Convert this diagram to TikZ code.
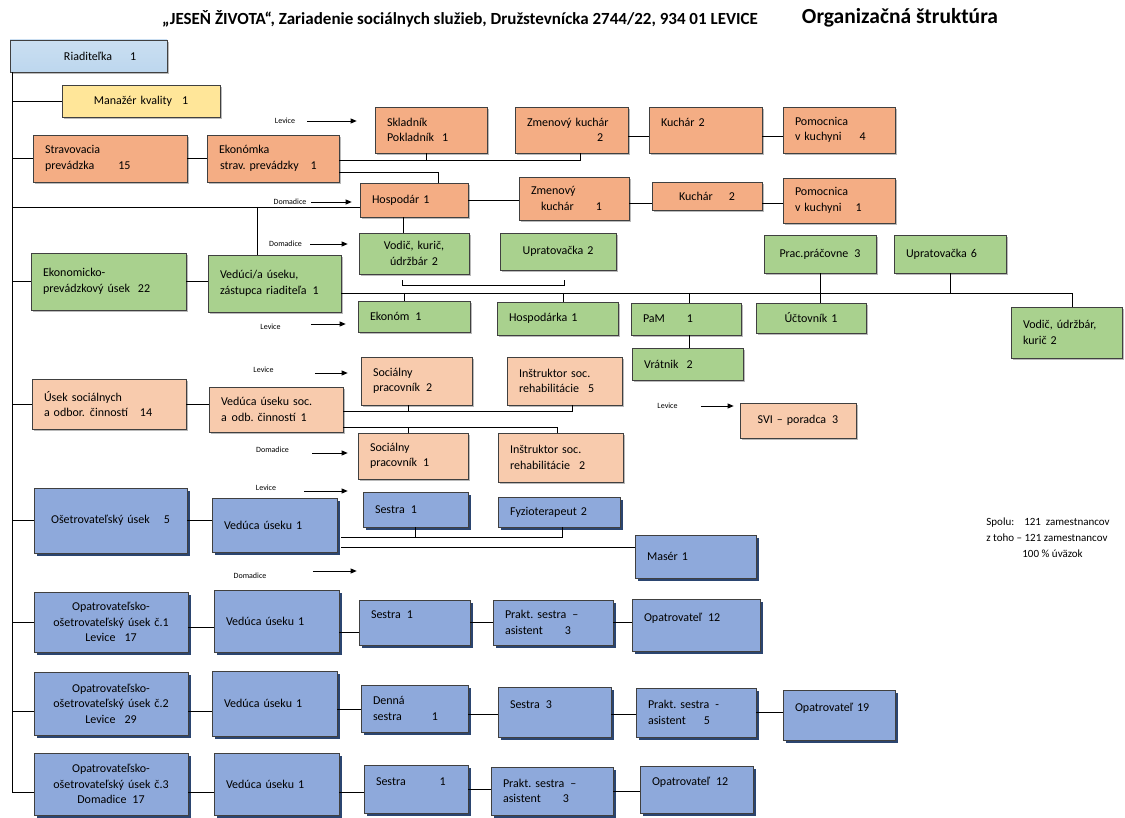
\documentclass[tikz,border=0pt]{standalone}
\usepackage{fontspec}
\setmainfont{Carlito}
\usetikzlibrary{arrows.meta,shadows}
\definecolor{riad}{HTML}{BDD7EE}
\definecolor{kval}{HTML}{FFE699}
\definecolor{strav}{HTML}{F4AD84}
\definecolor{prev}{HTML}{A9D18E}
\definecolor{soc}{HTML}{F8CBAD}
\definecolor{oset}{HTML}{8EA9DB}
\definecolor{osetsh}{HTML}{2B4570}
\frenchspacing

\begin{document}
\begin{tikzpicture}[x=1pt, y=-1pt, line width=0.8pt,
    every node/.style={inner sep=0pt, font=\fontsize{12}{15.5}\selectfont},
    bx/.style={draw=black!75, line width=0.7pt},
    sh/.style={drop shadow={shadow xshift=2pt, shadow yshift=-2pt, fill=black!45, opacity=0.6}},
    ob/.style={bx, sh, fill=strav},
    gb/.style={bx, sh, fill=prev},
    sb/.style={bx, sh, fill=soc},
    bb/.style={bx, fill=oset, drop shadow={shadow xshift=2.5pt, shadow yshift=-2.5pt, fill=osetsh, opacity=1}},
    wh/.style 2 args={minimum width=#1, minimum height=#2, text width=#1-24, align=left},
    whc/.style 2 args={minimum width=#1, minimum height=#2, text width=#1-12, align=center},
    tg/.style={font=\fontsize{8}{9}\selectfont},
    arr/.style={-{Triangle[length=6pt,width=5pt]}}]
    \fill[white] (0,0) rectangle (1125,818);

    \node (ttl) at (460,19) [font=\bfseries\fontsize{17}{20}\selectfont] {„JESEŇ ŽIVOTA“, Zariadenie sociálnych služieb, Družstevnícka 2744/22, 934 01 LEVICE};
    \node (org) at (900,18) [font=\bfseries\fontsize{21.5}{25}\selectfont] {Organizačná štruktúra};

    \node (rdt) at (88.5,56) [bx, sh, top color=riad!80, middle color=white, bottom color=riad, wh={157}{32}] {\hspace*{42pt}Riaditeľka\hspace{18pt}1};
    \node (mnz) at (141,101) [bx, sh, fill=kval, whc={158}{32}] {Manažér kvality\hspace{10pt}1};

    % stravovacia prevadzka
    \node (stv) at (110,158.5) [ob, wh={154}{47}] {Stravovacia\\prevádzka\hspace{24pt}15};
    \node (eko) at (273,158.5) [ob, wh={132}{47}] {Ekonómka\\\hspace*{1pt}strav. prevádzky\hspace{12pt}1};
    \node (skl) at (431,130) [ob, wh={112}{46}] {Skladník\\Pokladník\hspace{8pt}1};
    \node (zk2) at (571.5,130) [ob, wh={113}{46}] {Zmenový kuchár\\\hspace*{70pt}2};
    \node (ku2) at (705.5,130) [ob, wh={113}{46}] {Kuchár 2\\\mbox{}};
    \node (pk4) at (839,130) [ob, wh={112}{46}] {Pomocnica\\v kuchyni\hspace{18pt}4};
    \node (hsp) at (414,200) [ob, wh={108}{34}] {Hospodár 1};
    \node (zk1) at (574,198.5) [ob, wh={110}{43}] {Zmenový\\\hspace*{10pt}kuchár\hspace{22pt}1};
    \node (ku1) at (707,196) [ob, whc={110}{28}] {Kuchár\hspace{16pt}2};
    \node (pk1) at (839,200.5) [ob, wh={112}{45}] {Pomocnica\\v kuchyni\hspace{14pt}1};

    % ekonomicko-prevadzkovy usek
    \node (epu) at (108.5,281.5) [gb, wh={155}{57}] {Ekonomicko-\\prevádzkový úsek\hspace{8pt}22};
    \node (vdc) at (274.5,283.5) [gb, wh={133}{57}] {Vedúci/a úseku,\\zástupca riaditeľa\hspace{6pt}1};
    \node (vku) at (414,253.5) [gb, whc={110}{41}] {Vodič, kurič,\\údržbár 2};
    \node (up2) at (558,251.5) [gb, whc={116}{37}] {Upratovačka 2};
    \node (ekn) at (414,316.5) [gb, wh={112}{31}] {Ekonóm\hspace{6pt}1};
    \node (hka) at (557.5,318.5) [gb, wh={121}{33}] {Hospodárka 1};
    \node (pam) at (686,319) [gb, wh={110}{32}] {PaM\hspace{22pt}1};
    \node (vrt) at (687.5,364) [gb, wh={111}{32}] {Vrátnik\hspace{8pt}2};
    \node (uct) at (811,318) [gb, whc={110}{30}] {Účtovník 1};
    \node (prc) at (820,254) [gb, whc={112}{38}] {Prac.práčovne\hspace{6pt}3};
    \node (up6) at (950,254) [gb, wh={112}{38}] {Upratovačka 6};
    \node (vuk) at (1066.5,332.5) [gb, wh={111}{51}] {Vodič, údržbár,\\kurič 2};

    % usek socialnych cinnosti
    \node (usc) at (109,404) [sb, wh={154}{50}] {Úsek sociálnych\\a odbor.\hspace{5pt}činností\hspace{12pt}14};
    \node (vsc) at (276,409.5) [sb, wh={134}{45}] {Vedúca úseku soc.\\a\hspace{5pt}odb. činností\hspace{5pt}1};
    \node (sp2) at (416.5,381) [sb, wh={111}{48}] {Sociálny\\pracovník\hspace{6pt}2};
    \node (is5) at (564.5,381) [sb, wh={115}{48}] {Inštruktor soc.\\rehabilitácie\hspace{9pt}5};
    \node (sp1) at (413,456) [sb, wh={110}{46}] {Sociálny\\pracovník\hspace{6pt}1};
    \node (is2) at (560.5,457.5) [sb, wh={125}{49}] {Inštruktor soc.\\rehabilitácie\hspace{9pt}2};
    \node (svi) at (798,420.5) [sb, whc={116}{35}] {SVI -- poradca\hspace{6pt}3};

    % osetrovatelsky usek
    \node (osu) at (110.5,520.5) [bb, whc={153}{65}] {Ošetrovateľský úsek\hspace{14pt}5};
    \node (vo0) at (274.5,525) [bb, wh={125}{54}] {Vedúca úseku 1};
    \node (ses) at (415.5,509.5) [bb, wh={105}{35}] {Sestra\hspace{6pt}1};
    \node (fyz) at (559,512) [bb, wh={122}{30}] {Fyzioterapeut 2};
    \node (mas) at (695.5,556.5) [bb, wh={121}{43}] {Masér 1};

    \node (op1) at (111,622) [bb, whc={154}{60}] {Opatrovateľsko-\\ošetrovateľský úsek č.1\\Levice\hspace{9pt}17};
    \node (vo1) at (276.5,621) [bb, wh={125}{62}] {Vedúca úseku 1};
    \node (se1) at (414.5,622.5) [bb, wh={111}{45}] {Sestra\hspace{6pt}1\\\mbox{}};
    \node (pa1) at (553,622.5) [bb, wh={120}{45}] {Prakt. sestra\hspace{6pt}--\\asistent\hspace{22pt}3};
    \node (ot1) at (696,625) [bb, wh={128}{52}] {Opatrovateľ\hspace{6pt}12\\\mbox{}};

    \node (op2) at (111,703.5) [bb, whc={154}{63}] {Opatrovateľsko-\\ošetrovateľský úsek č.2\\Levice\hspace{9pt}29};
    \node (vo2) at (274.5,703.5) [bb, wh={125}{65}] {Vedúca úseku 1};
    \node (dse) at (414.5,708.5) [bb, wh={107}{47}] {Denná\\sestra\hspace{30pt}1};
    \node (se3) at (554.5,712) [bb, wh={113}{50}] {Sestra\hspace{6pt}3\\\mbox{}};
    \node (pa5) at (696,712.5) [bb, wh={120}{49}] {Prakt. sestra\hspace{6pt}-\\asistent\hspace{18pt}5};
    \node (ot9) at (839,715) [bb, wh={112}{50}] {Opatrovateľ 19\\\mbox{}};

    \node (op3) at (111,784) [bb, whc={154}{62}] {Opatrovateľsko-\\ošetrovateľský úsek č.3\\Domadice\hspace{6pt}17};
    \node (vo3) at (276.5,784) [bb, wh={125}{62}] {Vedúca úseku 1};
    \node (se4) at (416,789) [bb, wh={104}{48}] {Sestra\hspace{34pt}1\\\mbox{}};
    \node (pa3) at (552,791) [bb, wh={122}{48}] {Prakt. sestra\hspace{6pt}--\\asistent\hspace{22pt}3};
    \node (ot2) at (696.5,789.5) [bb, wh={113}{47}] {Opatrovateľ\hspace{6pt}12\\\mbox{}};

    \node (spl) at (986,538) [anchor=west, align=left, font=\fontsize{11}{16}\selectfont] {Spolu:\hspace{10pt}121\hspace{5pt}zamestnancov\\z toho -- 121 zamestnancov\\\hspace*{36pt}100 \% úväzok};

    % miesta
    \node (lv1) at (285,121) [tg] {Levice};
    \node (dm1) at (290,202) [tg] {Domadice};
    \node (dm2) at (285.5,244) [tg] {Domadice};
    \node (lv2) at (270.5,327) [tg] {Levice};
    \node (lv3) at (263.5,370) [tg] {Levice};
    \node (dm3) at (272.5,450) [tg] {Domadice};
    \node (lv4) at (667.5,406) [tg] {Levice};
    \node (lv5) at (266,488) [tg] {Levice};
    \node (dm4) at (250,576) [tg] {Domadice};
    \draw[arr] ([xshift=12pt]lv1.east) -- ([xshift=-18pt]lv1.east -| skl.west);
    \draw[arr] ([xshift=4pt]dm1.east) -- ([xshift=-8pt]dm1.east -| hsp.west);
    \draw[arr] ([xshift=8pt]dm2.east) -- ([xshift=-11pt]dm2.east -| vku.west);
    \draw[arr] ([xshift=30pt,yshift=3pt]lv2.east) -- ([xshift=-12pt,yshift=3pt]lv2.east -| ekn.west);
    \draw[arr] ([xshift=41pt,yshift=-3pt]lv3.east) -- ([xshift=-13pt,yshift=-3pt]lv3.east -| sp2.west);
    \draw[arr] ([xshift=23pt,yshift=-3pt]dm3.east) -- ([xshift=-10pt,yshift=-3pt]dm3.east -| sp1.west);
    \draw[arr] ([xshift=23pt]lv4.east) -- ([xshift=-6pt]lv4.east -| svi.west);
    \draw[arr] ([xshift=28pt,yshift=-3pt]lv5.east) -- ([xshift=-15pt,yshift=-3pt]lv5.east -| ses.west);
    \draw[arr] ([xshift=46pt,yshift=5pt]dm4.east) -- ([xshift=-2pt,yshift=5pt]dm4.east -| se1.west);

    % hlavna linka
    \coordinate (trk) at ([xshift=2.5pt]rdt.south west);
    \coordinate (hspw) at ([yshift=-7pt]hsp.west);
    \coordinate (o2) at ([yshift=-7.5pt]op2.west);
    \coordinate (o3) at ([yshift=-8pt]op3.west);
    \draw (trk) -- (trk |- o3);
    \draw (trk |- mnz.west) -- (mnz.west);
    \draw (trk |- stv.west) -- (stv.west);
    \draw (trk |- hspw) -- (hspw);
    \draw (trk |- epu.west) -- (epu.west);
    \draw (trk |- usc.west) -- (usc.west);
    \draw (trk |- osu.west) -- (osu.west);
    \draw (trk |- op1.west) -- (op1.west);
    \draw (trk |- o2) -- (o2);
    \draw (trk |- o3) -- (o3);

    \coordinate (vdcn) at ([xshift=-17.5pt]vdc.north);
    \draw (vdcn |- hspw) -- (vdcn);

    \draw (stv.east) -- (eko.west);
    \coordinate (ek1) at ([yshift=-2pt]eko.east);
    \coordinate (zk2s) at ([xshift=8.5pt]zk2.south);
    \coordinate (skls) at ([xshift=-5pt]skl.south);
    \draw (ek1) -- (ek1 -| zk2s) -- (zk2s);
    \draw (ek1 -| skls) -- (skls);
    \coordinate (ek2) at ([yshift=-13.5pt]eko.east);
    \coordinate (hspn) at ([xshift=24pt]hsp.north);
    \draw (ek2) -- (ek2 -| hspn) -- (hspn);
    \draw ([yshift=-6pt]zk2.east) -- ([yshift=-6pt]ku2.west);
    \draw ([yshift=-6pt]ku2.east) -- ([yshift=-6pt]pk4.west);
    \draw (hsp.east) -- (hsp.east -| zk1.west);
    \draw ([yshift=-4.5pt]zk1.east) -- ([yshift=-7pt]ku1.west);
    \draw ([yshift=-7pt]ku1.east) -- ([yshift=-2.5pt]pk1.west);

    \coordinate (hsps) at ([xshift=-11pt]hsp.south);
    \draw (hsps) -- (hsps |- vku.north);
    \coordinate (br1) at ([xshift=-12pt,yshift=-6pt]vku.south);
    \coordinate (br2) at ([xshift=6pt,yshift=-10pt]up2.south);
    \coordinate (br3) at ([yshift=-5pt]br1);
    \draw (br1) -- (br3) -- (br3 -| br2) -- (br2);

    \draw (epu.east) -- (epu.east -| vdc.west);
    \coordinate (gl) at ([yshift=-9.5pt]vdc.east);
    \coordinate (vukn) at ([xshift=5.5pt]vuk.north);
    \draw (gl) -- (gl -| vukn) -- (vukn);
    \coordinate (eknn) at ([xshift=-10pt]ekn.north);
    \draw (gl -| eknn) -- (eknn);
    \coordinate (hkan) at ([xshift=6pt]hka.north);
    \draw (gl -| hkan) -- (hkan);
    \coordinate (pamn) at ([xshift=3pt]pam.north);
    \draw (gl -| pamn) -- (pamn);
    \draw (pamn |- pam.south) -- (pamn |- vrt.north);
    \draw (prc.south) -- (prc.south |- uct.north);
    \draw (up6.south) -- (up6.south |- gl);

    \draw (usc.east) -- (usc.east -| vsc.west);
    \coordinate (sl1) at ([yshift=-1.5pt]vsc.east);
    \coordinate (sp2s) at ([xshift=-8.5pt]sp2.south);
    \coordinate (is5s) at ([xshift=7.5pt]is5.south);
    \draw (sl1) -- (sl1 -| is5s) -- (is5s);
    \draw (sl1 -| sp2s) -- (sp2s);
    \coordinate (sl2) at ([yshift=-17.5pt]vsc.east);
    \coordinate (sp1n) at ([xshift=-5pt]sp1.north);
    \coordinate (is2n) at ([xshift=-3.5pt]is2.north);
    \draw (sl2) -- (sl2 -| is2n) -- (is2n);
    \draw (sl2 -| sp1n) -- (sp1n);

    \draw (osu.east) -- (osu.east -| vo0.west);
    \coordinate (bl1) at ([xshift=4pt,yshift=-12pt]vo0.east);
    \coordinate (fyzs) at ([xshift=3pt]fyz.south);
    \draw (bl1) -- (bl1 -| fyzs) -- (fyzs);
    \draw (bl1 -| ses.south) -- (ses.south);
    \coordinate (bl2) at ([xshift=4pt,yshift=-22pt]vo0.east);
    \draw (bl2) -- (bl2 -| mas.west);

    \draw ([yshift=-5pt]op1.east) -- ([yshift=-5pt]op1.east -| vo1.west);
    \draw ([yshift=-11pt]vo1.east) -- ([yshift=-11pt]vo1.east -| se1.west);
    \draw (se1.east) -- (se1.east -| pa1.west);
    \draw (pa1.east) -- (pa1.east -| ot1.west);

    \draw ([yshift=-7.5pt]op2.east) -- ([yshift=-7.5pt]op2.east -| vo2.west);
    \draw ([yshift=-5.5pt]vo2.east) -- ([yshift=-5.5pt]vo2.east -| dse.west);
    \draw ([yshift=-5.5pt]dse.east) -- ([yshift=-5.5pt]dse.east -| se3.west);
    \draw ([yshift=-2pt]se3.east) -- ([yshift=-2pt]se3.east -| pa5.west);
    \draw (pa5.east) -- (pa5.east -| ot9.west);

    \draw ([yshift=-8pt]op3.east) -- ([yshift=-8pt]op3.east -| vo3.west);
    \draw ([yshift=-8pt]vo3.east) -- ([yshift=-8pt]vo3.east -| se4.west);
    \draw (se4.east) -- (se4.east -| pa3.west);
    \draw (pa3.east) -- (pa3.east -| ot2.west);
\end{tikzpicture}
\end{document}
